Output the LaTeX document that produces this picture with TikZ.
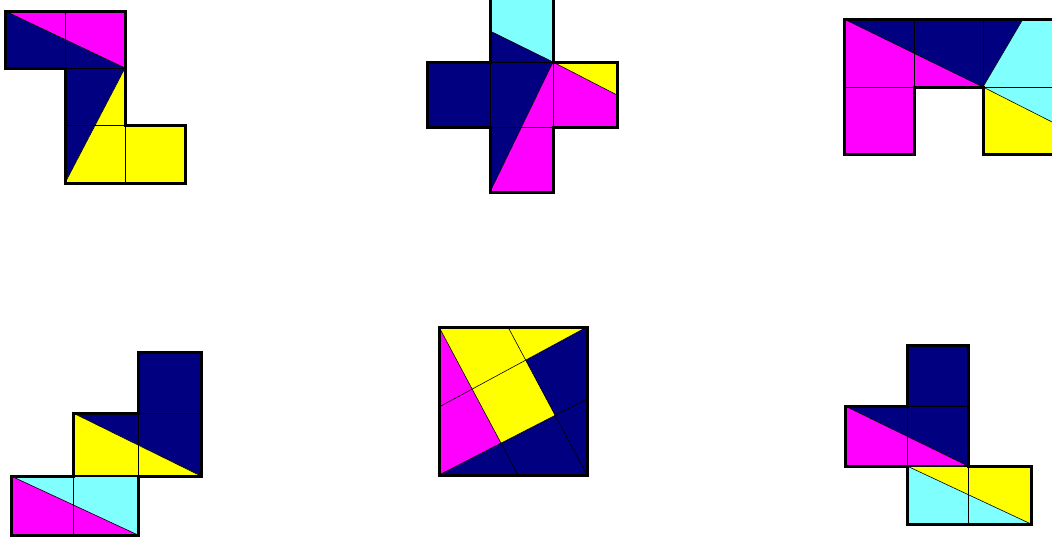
\documentclass[tikz,border=0pt]{standalone}
\usetikzlibrary{calc}
\definecolor{pnavy}{RGB}{0,0,128}
\definecolor{pmag}{RGB}{255,0,255}
\definecolor{pyel}{RGB}{255,255,0}
\definecolor{pcyan}{RGB}{128,255,255}
\tikzset{
  grid line/.style={black, line width=0.8pt},
  seam line/.style={black, line width=1.6pt},
  cut line/.style={black, line width=0.6pt},
  outline/.style={black, line width=3pt, line join=miter},
}
\begin{document}
\begin{tikzpicture}[x=1pt,y=-1pt]
\useasboundingbox (0,0) rectangle (1052,538);
\fill[white] (0,0) rectangle (1052,538);

% ---------- Figure 1 ----------
\fill[pmag] (5,11) -- (125,11) -- (125,68) -- cycle;
\fill[pnavy] (5,11) -- (125,68) -- (65,183) -- (65,68) -- (5,68) -- cycle;
\fill[pyel] (125,68) -- (125,125) -- (185,125) -- (185,183) -- (65,183) -- cycle;
\draw[grid line] (65,11) -- (65,68) -- (125,68);
\draw[grid line] (65,125) -- (125,125) -- (125,183);
\draw[cut line] (5,11) -- (125,68) -- (65,183);
\draw[outline] (5,11) -- (125,11) -- (125,125) -- (185,125) -- (185,183) -- (65,183) -- (65,68) -- (5,68) -- cycle;

% ---------- Figure 2 ----------
\fill[pcyan] (490,-4) -- (553,-4) -- (553,62) -- (490,31) -- cycle;
\fill[pnavy] (490,31) -- (553,62) -- (490,192) -- (490,127) -- (427,127) -- (427,62) -- (490,62) -- cycle;
\fill[pmag] (553,62) -- (617,95) -- (617,127) -- (553,127) -- (553,192) -- (490,192) -- cycle;
\fill[pyel] (553,62) -- (617,62) -- (617,95) -- cycle;
\draw[grid line] (490,62) -- (553,62) -- (553,127) -- (490,127) -- cycle;
\draw[cut line] (490,31) -- (553,62) -- (617,95);
\draw[cut line] (553,62) -- (490,192);
\draw[outline] (490,-4) -- (553,-4) -- (553,62) -- (617,62) -- (617,127) -- (553,127) -- (553,192) -- (490,192) -- (490,127) -- (427,127) -- (427,62) -- (490,62) -- cycle;

% ---------- Figure 3 ----------
\fill[pmag] (844,19) -- (983,87) -- (914,87) -- (914,154) -- (844,154) -- cycle;
\fill[pnavy] (844,19) -- (1023,19) -- (983,87) -- cycle;
\fill[pcyan] (1023,19) -- (1056,19) -- (1056,124) -- (983,87) -- cycle;
\fill[pyel] (983,87) -- (1056,124) -- (1056,154) -- (983,154) -- cycle;
\draw[grid line] (914,19) -- (914,87);
\draw[grid line] (983,19) -- (983,87);
\draw[grid line] (844,87) -- (914,87);
\draw[grid line] (983,87) -- (1056,87);
\draw[cut line] (844,19) -- (983,87) -- (1023,19);
\draw[cut line] (983,87) -- (1056,124);
\draw[outline] (844,19) -- (1056,19) -- (1056,154) -- (983,154) -- (983,87) -- (914,87) -- (914,154) -- (844,154) -- cycle;

% ---------- Figure 4 ----------
\fill[pnavy] (138,352) -- (201,352) -- (201,476) -- (73,413) -- (138,413) -- cycle;
\fill[pyel] (73,413) -- (201,476) -- (73,476) -- cycle;
\fill[pcyan] (11,476) -- (138,476) -- (138,535) -- cycle;
\fill[pmag] (11,476) -- (138,535) -- (11,535) -- cycle;
\draw[grid line] (138,413) -- (201,413);
\draw[grid line] (138,413) -- (138,476);
\draw[seam line] (73,476) -- (138,476);
\draw[grid line] (73,476) -- (73,535);
\draw[cut line] (73,413) -- (201,476);
\draw[cut line] (11,476) -- (138,535);
\draw[outline] (138,352) -- (201,352) -- (201,476) -- (138,476) -- (138,535) -- (11,535) -- (11,476) -- (73,476) -- (73,413) -- (138,413) -- cycle;

% ---------- Figure 5 (square) ----------
\coordinate (TL) at (439,327);
\coordinate (TR) at (587,327);
\coordinate (BR) at (587,475);
\coordinate (BL) at (439,475);
\coordinate (B1) at (518,475);
\coordinate (L2) at (439,407);
\coordinate (T3) at (508,327);
\coordinate (R4) at (587,399);
\coordinate (P12) at (intersection of TL--B1 and TR--L2);
\coordinate (P23) at (intersection of TR--L2 and BR--T3);
\coordinate (P34) at (intersection of BR--T3 and BL--R4);
\coordinate (P41) at (intersection of BL--R4 and TL--B1);
\fill[pmag] (TL) -- (P41) -- (BL) -- cycle;
\fill[pyel] (TL) -- (TR) -- (P23) -- (P34) -- (P41) -- cycle;
\fill[pnavy] (TR) -- (BR) -- (BL) -- (P41) -- (P34) -- (P23) -- cycle;
\draw[cut line] (TL) -- (B1);
\draw[cut line] (TR) -- (L2);
\draw[cut line] (BR) -- (T3);
\draw[cut line] (BL) -- (R4);
\draw[outline] (TL) -- (TR) -- (BR) -- (BL) -- cycle;

% ---------- Figure 6 ----------
\fill[pnavy] (907,345) -- (968,345) -- (968,466) -- (845,406) -- (907,406) -- cycle;
\fill[pmag] (845,406) -- (968,466) -- (845,466) -- cycle;
\fill[pyel] (907,466) -- (1031,466) -- (1031,524) -- cycle;
\fill[pcyan] (907,466) -- (1031,524) -- (907,524) -- cycle;
\draw[grid line] (907,406) -- (968,406);
\draw[grid line] (907,406) -- (907,466);
\draw[seam line] (907,466) -- (968,466);
\draw[grid line] (968,466) -- (968,524);
\draw[cut line] (845,406) -- (968,466);
\draw[cut line] (907,466) -- (1031,524);
\draw[outline] (907,345) -- (968,345) -- (968,466) -- (1031,466) -- (1031,524) -- (907,524) -- (907,466) -- (845,466) -- (845,406) -- (907,406) -- cycle;
\end{tikzpicture}
\end{document}
